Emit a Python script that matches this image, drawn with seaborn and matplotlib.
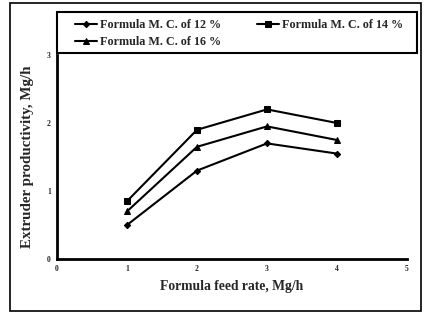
import matplotlib
matplotlib.use("Agg")
import matplotlib.pyplot as plt
import seaborn as sns
import pandas as pd
from matplotlib.patches import Rectangle

feed_rate = [1, 2, 3, 4]
mc12 = [0.5, 1.3, 1.7, 1.55]
mc14 = [0.85, 1.9, 2.2, 2.0]
mc16 = [0.7, 1.65, 1.95, 1.75]
series_names = ["Formula M. C. of 12 %", "Formula M. C. of 14 %", "Formula M. C. of 16 %"]
x_ticks = [0, 1, 2, 3, 4, 5]
y_ticks = [0, 1, 2, 3]

sns.set_style("white")
plt.rcParams['font.family'] = ['Liberation Serif', 'DejaVu Serif']
plt.rcParams['font.weight'] = 'bold'

df = pd.concat([
    pd.DataFrame({"x": feed_rate, "y": v, "s": n})
    for v, n in zip([mc12, mc14, mc16], series_names)
])

W, H = 428, 313
fig = plt.figure(figsize=(W / 100, H / 100), dpi=100)
ax = fig.add_axes([57 / W, 1 - 259 / H, 350 / W, 204 / H])
markers = {series_names[0]: "D", series_names[1]: "s", series_names[2]: "^"}
sizes = {series_names[0]: 3.2, series_names[1]: 4.5, series_names[2]: 4.8}
for n in series_names:
    sub = df[df.s == n]
    sns.lineplot(data=sub, x="x", y="y", ax=ax, color="black", marker=markers[n],
                 markersize=sizes[n], linewidth=1.5, label=n, markeredgecolor="black")

ax.set_xlim(0, 5)
ax.set_ylim(0, 3)
ax.set_xticks(x_ticks)
ax.set_yticks(y_ticks)
ax.tick_params(labelsize=5.5, length=3, width=1.5, direction="inout", pad=3)
for lbl in ax.get_xticklabels() + ax.get_yticklabels():
    lbl.set_fontweight("bold")
for s in ["top", "right"]:
    ax.spines[s].set_visible(False)
for s in ["left", "bottom"]:
    ax.spines[s].set_linewidth(2)
    ax.spines[s].set_color("black")
ax.set_xlabel("Formula feed rate, Mg/h", fontsize=9.8, fontweight="bold", labelpad=5)
ax.set_ylabel("Extruder productivity, Mg/h", fontsize=10.8, fontweight="bold", labelpad=9)

h, l = ax.get_legend_handles_labels()
ax.legend_.remove()
order = [0, 2, 1]
leg = fig.legend([h[i] for i in order], [l[i] for i in order],
                 loc="upper left", bbox_to_anchor=(75 / W, 1 - 19 / H),
                 ncol=2, frameon=False, borderaxespad=0, borderpad=0,
                 handlelength=1.8, handletextpad=0.25, columnspacing=3.0,
                 labelspacing=0.45, prop={"weight": "bold", "size": 8.7})

fig.patches.append(Rectangle((57 / W, 1 - 53 / H), 360 / W, 41 / H, transform=fig.transFigure,
                             fill=False, edgecolor="black", linewidth=1.5))
fig.patches.append(Rectangle((10 / W, 2 / H), 411 / W, 308 / H, transform=fig.transFigure,
                             fill=False, edgecolor="black", linewidth=1.2))
fig.savefig("out.png", dpi=100)
